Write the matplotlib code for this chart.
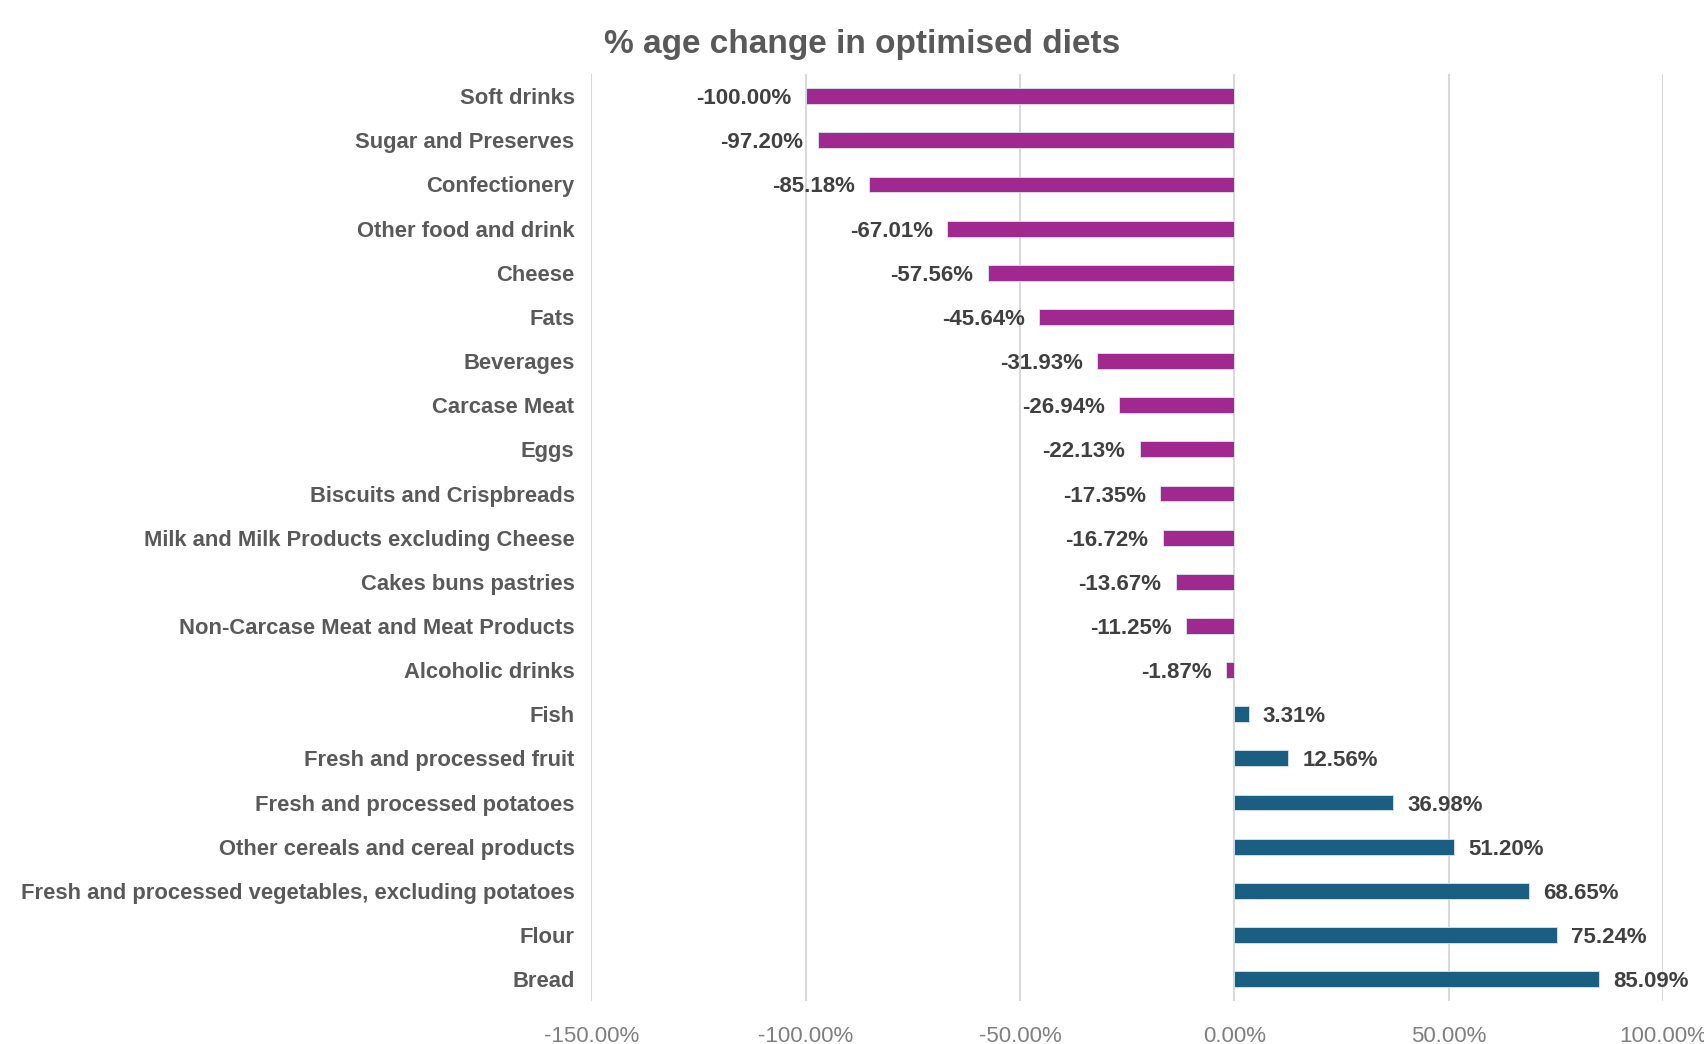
import numpy as np
import matplotlib
matplotlib.use("Agg")
import matplotlib.pyplot as plt

plt.rcParams['font.family'] = ['Liberation Sans', 'DejaVu Sans']

categories = [
    "Soft drinks", "Sugar and Preserves", "Confectionery", "Other food and drink",
    "Cheese", "Fats", "Beverages", "Carcase Meat", "Eggs",
    "Biscuits and Crispbreads", "Milk and Milk Products excluding Cheese",
    "Cakes buns pastries", "Non-Carcase Meat and Meat Products", "Alcoholic drinks",
    "Fish", "Fresh and processed fruit", "Fresh and processed potatoes",
    "Other cereals and cereal products",
    "Fresh and processed vegetables, excluding potatoes", "Flour", "Bread",
]
changes = [
    -100.00, -97.20, -85.18, -67.01, -57.56, -45.64, -31.93, -26.94, -22.13,
    -17.35, -16.72, -13.67, -11.25, -1.87,
    3.31, 12.56, 36.98, 51.20, 68.65, 75.24, 85.09,
]
xticks = [-150, -100, -50, 0, 50, 100]

neg_col = "#A0298F"
pos_col = "#1A5E82"

fig = plt.figure(figsize=(17.04, 10.44), dpi=100)
ax = fig.add_axes([0.347, 0.041, 0.629, 0.888])

y = np.arange(len(categories))
cols = [neg_col if v < 0 else pos_col for v in changes]
ax.barh(y, changes, height=0.36, color=cols, edgecolor="#d8e6ee", linewidth=0.6, zorder=3)

for yi, v in zip(y, changes):
    if v < 0:
        ax.text(v - 3.3, yi, f"{v:.2f}%", ha="right", va="center_baseline",
                fontsize=16, fontweight="bold", color="#404040")
    else:
        ax.text(v + 3.3, yi, f"{v:.2f}%", ha="left", va="center_baseline",
                fontsize=16, fontweight="bold", color="#404040")

ax.set_xlim(-150, 100)
ax.set_ylim(len(categories) - 0.5, -0.5)
ax.set_xticks(xticks)
ax.set_xticklabels([f"{t:.2f}%" for t in xticks], fontsize=16, color="#7F7F7F")
ax.set_yticks(y)
ax.set_yticklabels(categories, fontsize=15.8, fontweight="bold", color="#595959")
ax.tick_params(axis="both", length=0)
ax.tick_params(axis="y", pad=12)
ax.tick_params(axis="x", pad=18)
ax.grid(axis="x", color="#D9D9D9", linewidth=1.5, zorder=0)
for s in ax.spines.values():
    s.set_visible(False)

fig.text(0.506, 0.957, "% age change in optimised diets", ha="center", va="center",
         fontsize=24, fontweight="bold", color="#595959")

fig.savefig("out.png", dpi=100)
